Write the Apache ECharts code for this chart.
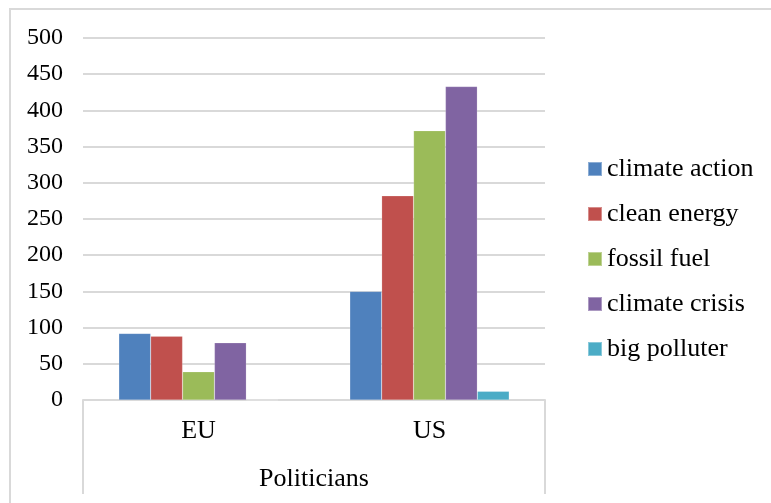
<!DOCTYPE html>
<html>
<head>
<meta charset="utf-8">
<script src="https://cdn.jsdelivr.net/npm/echarts@6/dist/echarts.min.js"></script>
<style>
html,body{margin:0;padding:0;background:#fff;}
#main{width:771px;height:503px;}
</style>
</head>
<body>
<div id="main"></div>
<script>
var categories = ['EU', 'US'];
var groupLabel = ['Politicians'];
var seriesNames = ['climate action', 'clean energy', 'fossil fuel', 'climate crisis', 'big polluter'];
var climateAction = [92, 150];
var cleanEnergy = [88, 282];
var fossilFuel = [39, 372];
var climateCrisis = [79, 433];
var bigPolluter = [0, 12];
var color = ['#4f81bd', '#c0504d', '#9bbb59', '#8064a2', '#4bacc6'];

var font = '"Liberation Serif", "Times New Roman", serif';
var allData = [climateAction, cleanEnergy, fossilFuel, climateCrisis, bigPolluter];

var myChart = echarts.init(document.getElementById('main'));
var series = [];
for (var i = 0; i < seriesNames.length; i++) {
    series.push({
        name: seriesNames[i],
        type: 'bar',
        xAxisIndex: 0,
        data: allData[i],
        barGap: '0%',
        barCategoryGap: '31%',
        itemStyle: {color: color[i], borderColor: 'rgba(255,255,255,0.35)', borderWidth: 0.5}
    });
}
option = {
    animation: false,
    color: color,
    textStyle: {fontFamily: font},
    grid: {left: 83, right: 226, top: 38, bottom: 103},
    graphic: [{
        type: 'polyline',
        shape: {points: [[10, 520], [10, 9], [800, 9]]},
        style: {stroke: '#d9d9d9', lineWidth: 2, fill: null}
    }],
    legend: {
        orient: 'vertical',
        left: 587,
        top: 156,
        padding: 0,
        itemWidth: 14,
        itemHeight: 14,
        itemGap: 19,
        icon: 'rect',
        textStyle: {fontFamily: font, fontSize: 26, color: '#000'},
        data: seriesNames
    },
    xAxis: [
        {
            type: 'category',
            data: categories,
            axisLine: {lineStyle: {color: '#d9d9d9', width: 2}},
            axisTick: {show: false},
            axisLabel: {margin: 18, fontFamily: font, fontSize: 26, color: '#000'}
        },
        {
            type: 'category',
            data: groupLabel,
            position: 'bottom',
            axisLine: {show: false},
            axisTick: {show: true, length: 94, lineStyle: {color: '#d9d9d9', width: 2}},
            axisLabel: {margin: 66, fontFamily: font, fontSize: 26, color: '#000'}
        }
    ],
    yAxis: {
        type: 'value',
        min: 0,
        max: 500,
        interval: 50,
        axisLine: {show: false},
        axisTick: {show: false},
        axisLabel: {margin: 20, fontFamily: font, fontSize: 24, color: '#000'},
        splitLine: {lineStyle: {color: '#d9d9d9', width: 2}}
    },
    series: series
};
myChart.setOption(option, true);
</script>
</body>
</html>
